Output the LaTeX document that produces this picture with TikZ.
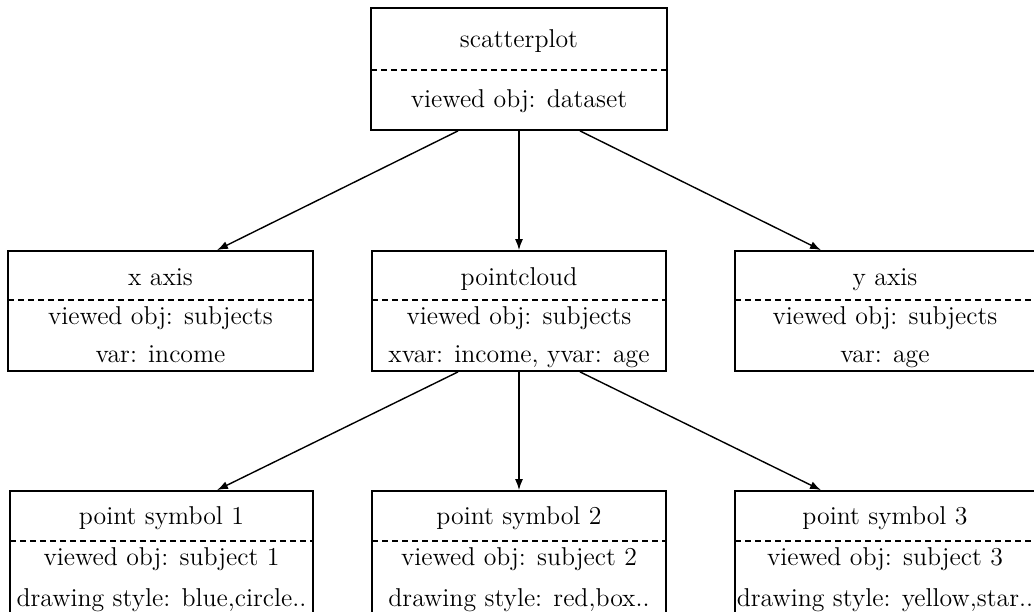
\documentclass[tikz,border=0pt]{standalone}
\usepackage{tikz}
\usetikzlibrary{arrows.meta,calc}
\tikzset{
  obj/.style ={draw, line width=0.9pt, inner sep=0pt, minimum height=60pt},
  sep/.style ={dash pattern=on 3pt off 2pt, line width=0.6pt},
  lbl/.style ={anchor=base, font=\fontsize{12.9}{15}\selectfont, inner sep=0pt},
  ar/.style  ={-{Latex[length=5.5pt,width=4pt]}, line width=0.7pt},
}
\begin{document}
\begin{tikzpicture}[x=0.5pt,y=-0.5pt]
\clip (0,0) rectangle (1034,611);

% top: the scatterplot
\node[obj, minimum width=148pt, minimum height=61pt] (scat) at (519,69) {};
\draw[sep] (371,70) -- (667,70);
\node[lbl] (scatname) at (519,47) {scatterplot};
\node[lbl] (scatview) at (519,107) {viewed obj: dataset};

% middle row
\node[obj, minimum width=152.5pt] (xax) at (160.5,311) {};
\draw[sep] (8,300) -- (313,300);
\node[lbl] (xaxname) at (160.5,285) {x axis};
\node[lbl] (xaxview) at (160.5,324) {viewed obj: subjects};
\node[lbl] (xaxvar) at (160.5,362) {var: income};

\node[obj, minimum width=147pt] (pcl) at (519,311) {};
\draw[sep] (372,300) -- (666,300);
\node[lbl] (pclname) at (519,285) {pointcloud};
\node[lbl] (pclview) at (519,324) {viewed obj: subjects};
\node[lbl] (pclvar) at (519,362) {xvar: income, yvar: age};

\node[obj, minimum width=152.5pt] (yax) at (887.5,311) {};
\draw[sep] (735,300) -- (1040,300);
\node[lbl] (yaxname) at (885,285) {y axis};
\node[lbl] (yaxview) at (885,324) {viewed obj: subjects};
\node[lbl] (yaxvar) at (885,362) {var: age};

% bottom row
\node[obj, minimum width=151.5pt, minimum height=65pt] (sym1) at (161.5,556) {};
\draw[sep] (10,541) -- (313,541);
\node[lbl] (sym1name) at (161.5,524) {point symbol 1};
\node[lbl] (sym1view) at (161.5,565) {viewed obj: subject 1};
\node[lbl] (sym1style) at (161.5,606) {drawing style: blue,circle..};

\node[obj, minimum width=147pt, minimum height=65pt] (sym2) at (519,556) {};
\draw[sep] (372,541) -- (666,541);
\node[lbl] (sym2name) at (519,524) {point symbol 2};
\node[lbl] (sym2view) at (519,565) {viewed obj: subject 2};
\node[lbl] (sym2style) at (519,606) {drawing style: red,box..};

\node[obj, minimum width=152.5pt, minimum height=65pt] (sym3) at (887.5,556) {};
\draw[sep] (735,541) -- (1040,541);
\node[lbl] (sym3name) at (885,524) {point symbol 3};
\node[lbl] (sym3view) at (885,565) {viewed obj: subject 3};
\node[lbl] (sym3style) at (885,606) {drawing style: yellow,star..};

% arrows
\draw[ar] ($(scat.south)+(-61,0)$) -- ($(xax.north)+(56.5,0)$);
\draw[ar] (scat.south) -- (pcl.north);
\draw[ar] ($(scat.south)+(61,0)$) -- ($(yax.north)+(-66.5,0)$);
\draw[ar] ($(pcl.south)+(-61,0)$) -- ($(sym1.north)+(55.5,0)$);
\draw[ar] (pcl.south) -- (sym2.north);
\draw[ar] ($(pcl.south)+(61,0)$) -- ($(sym3.north)+(-66.5,0)$);
\end{tikzpicture}
\end{document}
